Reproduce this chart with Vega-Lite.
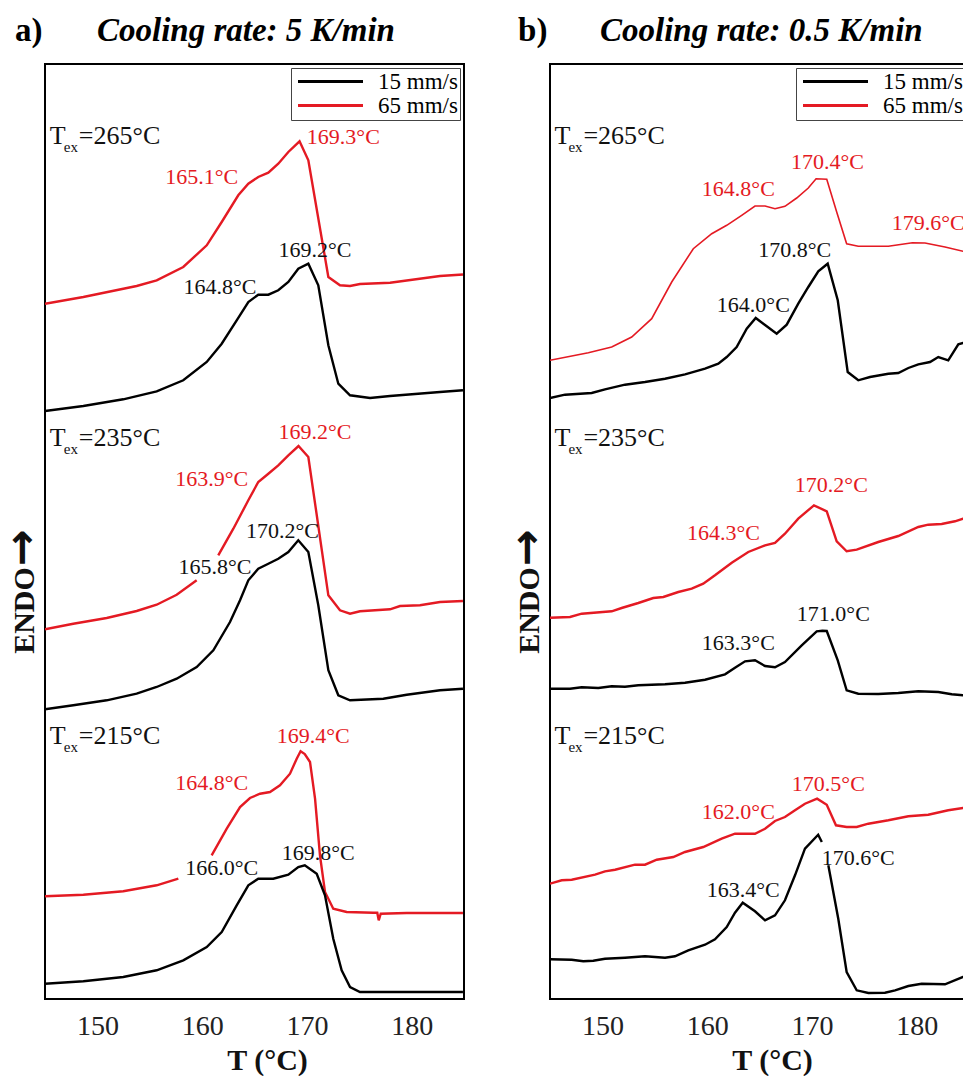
{
  "$schema": "https://vega.github.io/schema/vega-lite/v6.json",
  "padding": {"left": 0, "top": 13, "right": 0, "bottom": 0},
  "background": "white",
  "spacing": 40,
  "config": {
    "font": "Liberation Serif",
    "view": {"stroke": "black", "strokeWidth": 2},
    "axis": {"grid": false, "ticks": false, "tickSize": 0, "domain": false, "labelFont": "Liberation Serif", "titleFont": "Liberation Serif"},
    "legend": {
      "title": null, "orient": "top-right", "offset": 4, "padding": 2, "rowPadding": -4,
      "labelFont": "Liberation Serif", "labelFontSize": 23, "labelColor": "black", "labelLimit": 300,
      "symbolType": "M-1,0H9", "symbolSize": 169, "symbolStrokeWidth": 3, "labelOffset": 62,
      "strokeColor": "#444", "fillColor": "white"
    }
  },
  "resolve": {"scale": {"color": "independent"}, "legend": {"color": "independent"}},
  "datasets": {
    "curves": [
      {"p":"a","g":"a265r","s":"65 mm/s","T":145.00,"v":695.3},
      {"p":"a","g":"a265r","s":"65 mm/s","T":148.66,"v":702.0},
      {"p":"a","g":"a265r","s":"65 mm/s","T":153.75,"v":713.0},
      {"p":"a","g":"a265r","s":"65 mm/s","T":155.66,"v":718.7},
      {"p":"a","g":"a265r","s":"65 mm/s","T":158.20,"v":732.0},
      {"p":"a","g":"a265r","s":"65 mm/s","T":160.44,"v":753.7},
      {"p":"a","g":"a265r","s":"65 mm/s","T":161.87,"v":777.0},
      {"p":"a","g":"a265r","s":"65 mm/s","T":163.45,"v":803.7},
      {"p":"a","g":"a265r","s":"65 mm/s","T":164.41,"v":815.3},
      {"p":"a","g":"a265r","s":"65 mm/s","T":165.36,"v":822.0},
      {"p":"a","g":"a265r","s":"65 mm/s","T":166.32,"v":826.3},
      {"p":"a","g":"a265r","s":"65 mm/s","T":167.27,"v":835.3},
      {"p":"a","g":"a265r","s":"65 mm/s","T":168.23,"v":847.0},
      {"p":"a","g":"a265r","s":"65 mm/s","T":169.30,"v":857.7},
      {"p":"a","g":"a265r","s":"65 mm/s","T":170.14,"v":838.7},
      {"p":"a","g":"a265r","s":"65 mm/s","T":172.05,"v":722.0},
      {"p":"a","g":"a265r","s":"65 mm/s","T":173.16,"v":713.7},
      {"p":"a","g":"a265r","s":"65 mm/s","T":174.12,"v":713.0},
      {"p":"a","g":"a265r","s":"65 mm/s","T":175.07,"v":715.0},
      {"p":"a","g":"a265r","s":"65 mm/s","T":177.94,"v":716.3},
      {"p":"a","g":"a265r","s":"65 mm/s","T":182.71,"v":723.0},
      {"p":"a","g":"a265r","s":"65 mm/s","T":184.90,"v":724.5},

      {"p":"a","g":"a265b","s":"15 mm/s","T":145.00,"v":588.0},
      {"p":"a","g":"a265b","s":"15 mm/s","T":148.66,"v":593.0},
      {"p":"a","g":"a265b","s":"15 mm/s","T":152.47,"v":599.7},
      {"p":"a","g":"a265b","s":"15 mm/s","T":155.66,"v":607.7},
      {"p":"a","g":"a265b","s":"15 mm/s","T":158.20,"v":618.7},
      {"p":"a","g":"a265b","s":"15 mm/s","T":160.44,"v":637.0},
      {"p":"a","g":"a265b","s":"15 mm/s","T":161.87,"v":655.3},
      {"p":"a","g":"a265b","s":"15 mm/s","T":163.30,"v":678.7},
      {"p":"a","g":"a265b","s":"15 mm/s","T":164.41,"v":697.0},
      {"p":"a","g":"a265b","s":"15 mm/s","T":165.36,"v":704.3},
      {"p":"a","g":"a265b","s":"15 mm/s","T":166.32,"v":704.3},
      {"p":"a","g":"a265b","s":"15 mm/s","T":167.27,"v":708.7},
      {"p":"a","g":"a265b","s":"15 mm/s","T":168.23,"v":717.0},
      {"p":"a","g":"a265b","s":"15 mm/s","T":169.18,"v":730.3},
      {"p":"a","g":"a265b","s":"15 mm/s","T":170.14,"v":735.3},
      {"p":"a","g":"a265b","s":"15 mm/s","T":171.09,"v":713.7},
      {"p":"a","g":"a265b","s":"15 mm/s","T":172.05,"v":653.7},
      {"p":"a","g":"a265b","s":"15 mm/s","T":173.00,"v":615.3},
      {"p":"a","g":"a265b","s":"15 mm/s","T":174.12,"v":603.7},
      {"p":"a","g":"a265b","s":"15 mm/s","T":176.03,"v":601.0},
      {"p":"a","g":"a265b","s":"15 mm/s","T":177.94,"v":603.0},
      {"p":"a","g":"a265b","s":"15 mm/s","T":182.71,"v":607.0},
      {"p":"a","g":"a265b","s":"15 mm/s","T":184.90,"v":608.7},

      {"p":"a","g":"a235r1","s":"65 mm/s","T":145.00,"v":369.7},
      {"p":"a","g":"a235r1","s":"65 mm/s","T":147.70,"v":375.3},
      {"p":"a","g":"a235r1","s":"65 mm/s","T":150.89,"v":381.0},
      {"p":"a","g":"a235r1","s":"65 mm/s","T":153.75,"v":388.0},
      {"p":"a","g":"a235r1","s":"65 mm/s","T":155.66,"v":394.3},
      {"p":"a","g":"a235r1","s":"65 mm/s","T":157.57,"v":404.3},
      {"p":"a","g":"a235r1","s":"65 mm/s","T":159.48,"v":418.7},
      {"p":"a","g":"a235r2","s":"65 mm/s","T":161.54,"v":443.7},
      {"p":"a","g":"a235r2","s":"65 mm/s","T":162.98,"v":470.3},
      {"p":"a","g":"a235r2","s":"65 mm/s","T":164.41,"v":498.7},
      {"p":"a","g":"a235r2","s":"65 mm/s","T":165.36,"v":517.0},
      {"p":"a","g":"a235r2","s":"65 mm/s","T":166.32,"v":525.3},
      {"p":"a","g":"a235r2","s":"65 mm/s","T":167.27,"v":533.7},
      {"p":"a","g":"a235r2","s":"65 mm/s","T":168.23,"v":543.7},
      {"p":"a","g":"a235r2","s":"65 mm/s","T":169.20,"v":553.0},
      {"p":"a","g":"a235r2","s":"65 mm/s","T":170.14,"v":542.0},
      {"p":"a","g":"a235r2","s":"65 mm/s","T":172.05,"v":403.7},
      {"p":"a","g":"a235r2","s":"65 mm/s","T":173.16,"v":388.7},
      {"p":"a","g":"a235r2","s":"65 mm/s","T":174.12,"v":385.3},
      {"p":"a","g":"a235r2","s":"65 mm/s","T":175.07,"v":387.7},
      {"p":"a","g":"a235r2","s":"65 mm/s","T":177.94,"v":389.7},
      {"p":"a","g":"a235r2","s":"65 mm/s","T":178.89,"v":393.0},
      {"p":"a","g":"a235r2","s":"65 mm/s","T":180.80,"v":393.7},
      {"p":"a","g":"a235r2","s":"65 mm/s","T":182.71,"v":397.0},
      {"p":"a","g":"a235r2","s":"65 mm/s","T":184.90,"v":398.0},

      {"p":"a","g":"a235b","s":"15 mm/s","T":145.00,"v":289.7},
      {"p":"a","g":"a235b","s":"15 mm/s","T":147.70,"v":293.7},
      {"p":"a","g":"a235b","s":"15 mm/s","T":150.89,"v":298.7},
      {"p":"a","g":"a235b","s":"15 mm/s","T":153.75,"v":305.3},
      {"p":"a","g":"a235b","s":"15 mm/s","T":155.66,"v":312.0},
      {"p":"a","g":"a235b","s":"15 mm/s","T":157.57,"v":320.3},
      {"p":"a","g":"a235b","s":"15 mm/s","T":159.48,"v":332.0},
      {"p":"a","g":"a235b","s":"15 mm/s","T":161.07,"v":348.7},
      {"p":"a","g":"a235b","s":"15 mm/s","T":162.66,"v":377.0},
      {"p":"a","g":"a235b","s":"15 mm/s","T":163.62,"v":398.7},
      {"p":"a","g":"a235b","s":"15 mm/s","T":164.41,"v":418.7},
      {"p":"a","g":"a235b","s":"15 mm/s","T":165.36,"v":430.3},
      {"p":"a","g":"a235b","s":"15 mm/s","T":166.32,"v":435.3},
      {"p":"a","g":"a235b","s":"15 mm/s","T":167.27,"v":440.3},
      {"p":"a","g":"a235b","s":"15 mm/s","T":168.23,"v":447.0},
      {"p":"a","g":"a235b","s":"15 mm/s","T":169.18,"v":458.7},
      {"p":"a","g":"a235b","s":"15 mm/s","T":170.14,"v":447.0},
      {"p":"a","g":"a235b","s":"15 mm/s","T":171.09,"v":393.7},
      {"p":"a","g":"a235b","s":"15 mm/s","T":172.05,"v":328.7},
      {"p":"a","g":"a235b","s":"15 mm/s","T":173.00,"v":303.7},
      {"p":"a","g":"a235b","s":"15 mm/s","T":174.12,"v":298.7},
      {"p":"a","g":"a235b","s":"15 mm/s","T":177.30,"v":300.3},
      {"p":"a","g":"a235b","s":"15 mm/s","T":179.53,"v":304.3},
      {"p":"a","g":"a235b","s":"15 mm/s","T":182.71,"v":308.7},
      {"p":"a","g":"a235b","s":"15 mm/s","T":184.90,"v":310.3},

      {"p":"a","g":"a215r1","s":"65 mm/s","T":145.00,"v":102.7},
      {"p":"a","g":"a215r1","s":"65 mm/s","T":148.66,"v":104.3},
      {"p":"a","g":"a215r1","s":"65 mm/s","T":152.47,"v":107.7},
      {"p":"a","g":"a215r1","s":"65 mm/s","T":155.66,"v":113.7},
      {"p":"a","g":"a215r1","s":"65 mm/s","T":157.73,"v":120.3},
      {"p":"a","g":"a215r2","s":"65 mm/s","T":160.91,"v":143.7},
      {"p":"a","g":"a215r2","s":"65 mm/s","T":162.35,"v":170.3},
      {"p":"a","g":"a215r2","s":"65 mm/s","T":163.62,"v":192.0},
      {"p":"a","g":"a215r2","s":"65 mm/s","T":164.57,"v":201.0},
      {"p":"a","g":"a215r2","s":"65 mm/s","T":165.53,"v":205.3},
      {"p":"a","g":"a215r2","s":"65 mm/s","T":166.48,"v":207.0},
      {"p":"a","g":"a215r2","s":"65 mm/s","T":167.43,"v":213.7},
      {"p":"a","g":"a215r2","s":"65 mm/s","T":168.39,"v":225.3},
      {"p":"a","g":"a215r2","s":"65 mm/s","T":169.03,"v":240.3},
      {"p":"a","g":"a215r2","s":"65 mm/s","T":169.40,"v":247.7},
      {"p":"a","g":"a215r2","s":"65 mm/s","T":169.80,"v":245.0},
      {"p":"a","g":"a215r2","s":"65 mm/s","T":170.30,"v":237.0},
      {"p":"a","g":"a215r2","s":"65 mm/s","T":170.78,"v":200.3},
      {"p":"a","g":"a215r2","s":"65 mm/s","T":171.25,"v":143.7},
      {"p":"a","g":"a215r2","s":"65 mm/s","T":171.73,"v":107.0},
      {"p":"a","g":"a215r2","s":"65 mm/s","T":172.52,"v":90.3},
      {"p":"a","g":"a215r2","s":"65 mm/s","T":173.80,"v":87.0},
      {"p":"a","g":"a215r2","s":"65 mm/s","T":176.34,"v":86.3},
      {"p":"a","g":"a215r2","s":"65 mm/s","T":176.72,"v":86.3},
      {"p":"a","g":"a215r2","s":"65 mm/s","T":176.86,"v":78.7},
      {"p":"a","g":"a215r2","s":"65 mm/s","T":177.05,"v":85.3},
      {"p":"a","g":"a215r2","s":"65 mm/s","T":179.53,"v":86.0},
      {"p":"a","g":"a215r2","s":"65 mm/s","T":184.90,"v":86.0},

      {"p":"a","g":"a215b","s":"15 mm/s","T":145.00,"v":15.3},
      {"p":"a","g":"a215b","s":"15 mm/s","T":148.66,"v":17.7},
      {"p":"a","g":"a215b","s":"15 mm/s","T":152.47,"v":22.0},
      {"p":"a","g":"a215b","s":"15 mm/s","T":155.66,"v":28.7},
      {"p":"a","g":"a215b","s":"15 mm/s","T":158.20,"v":38.7},
      {"p":"a","g":"a215b","s":"15 mm/s","T":160.44,"v":52.0},
      {"p":"a","g":"a215b","s":"15 mm/s","T":161.87,"v":67.0},
      {"p":"a","g":"a215b","s":"15 mm/s","T":163.30,"v":93.7},
      {"p":"a","g":"a215b","s":"15 mm/s","T":164.41,"v":113.7},
      {"p":"a","g":"a215b","s":"15 mm/s","T":165.36,"v":120.3},
      {"p":"a","g":"a215b","s":"15 mm/s","T":166.79,"v":120.3},
      {"p":"a","g":"a215b","s":"15 mm/s","T":168.23,"v":124.3},
      {"p":"a","g":"a215b","s":"15 mm/s","T":169.18,"v":132.0},
      {"p":"a","g":"a215b","s":"15 mm/s","T":169.80,"v":133.7},
      {"p":"a","g":"a215b","s":"15 mm/s","T":170.94,"v":125.3},
      {"p":"a","g":"a215b","s":"15 mm/s","T":171.73,"v":103.7},
      {"p":"a","g":"a215b","s":"15 mm/s","T":172.52,"v":60.3},
      {"p":"a","g":"a215b","s":"15 mm/s","T":173.32,"v":28.7},
      {"p":"a","g":"a215b","s":"15 mm/s","T":174.12,"v":12.0},
      {"p":"a","g":"a215b","s":"15 mm/s","T":175.07,"v":7.0},
      {"p":"a","g":"a215b","s":"15 mm/s","T":177.94,"v":7.0},
      {"p":"a","g":"a215b","s":"15 mm/s","T":184.90,"v":7.0},

      {"p":"b","g":"b265r","s":"65 mm/s","T":145.00,"v":638.7},
      {"p":"b","g":"b265r","s":"65 mm/s","T":148.66,"v":646.3},
      {"p":"b","g":"b265r","s":"65 mm/s","T":150.89,"v":652.0},
      {"p":"b","g":"b265r","s":"65 mm/s","T":152.80,"v":662.0},
      {"p":"b","g":"b265r","s":"65 mm/s","T":154.71,"v":680.3},
      {"p":"b","g":"b265r","s":"65 mm/s","T":156.62,"v":717.0},
      {"p":"b","g":"b265r","s":"65 mm/s","T":158.68,"v":750.3},
      {"p":"b","g":"b265r","s":"65 mm/s","T":160.44,"v":765.3},
      {"p":"b","g":"b265r","s":"65 mm/s","T":161.87,"v":773.7},
      {"p":"b","g":"b265r","s":"65 mm/s","T":163.30,"v":783.7},
      {"p":"b","g":"b265r","s":"65 mm/s","T":164.57,"v":793.0},
      {"p":"b","g":"b265r","s":"65 mm/s","T":165.53,"v":793.0},
      {"p":"b","g":"b265r","s":"65 mm/s","T":166.48,"v":790.3},
      {"p":"b","g":"b265r","s":"65 mm/s","T":167.43,"v":792.7},
      {"p":"b","g":"b265r","s":"65 mm/s","T":168.55,"v":801.0},
      {"p":"b","g":"b265r","s":"65 mm/s","T":169.66,"v":811.0},
      {"p":"b","g":"b265r","s":"65 mm/s","T":170.40,"v":820.3},
      {"p":"b","g":"b265r","s":"65 mm/s","T":171.42,"v":819.7},
      {"p":"b","g":"b265r","s":"65 mm/s","T":172.37,"v":787.0},
      {"p":"b","g":"b265r","s":"65 mm/s","T":173.32,"v":755.3},
      {"p":"b","g":"b265r","s":"65 mm/s","T":174.43,"v":752.7},
      {"p":"b","g":"b265r","s":"65 mm/s","T":177.30,"v":752.7},
      {"p":"b","g":"b265r","s":"65 mm/s","T":179.60,"v":756.3},
      {"p":"b","g":"b265r","s":"65 mm/s","T":180.80,"v":756.0},
      {"p":"b","g":"b265r","s":"65 mm/s","T":182.71,"v":752.0},
      {"p":"b","g":"b265r","s":"65 mm/s","T":184.43,"v":747.7},
      {"p":"b","g":"b265r","s":"65 mm/s","T":185.00,"v":747.0},

      {"p":"b","g":"b265b","s":"15 mm/s","T":145.00,"v":601.0},
      {"p":"b","g":"b265b","s":"15 mm/s","T":146.43,"v":604.3},
      {"p":"b","g":"b265b","s":"15 mm/s","T":148.98,"v":606.0},
      {"p":"b","g":"b265b","s":"15 mm/s","T":150.25,"v":609.7},
      {"p":"b","g":"b265b","s":"15 mm/s","T":152.16,"v":614.3},
      {"p":"b","g":"b265b","s":"15 mm/s","T":154.07,"v":617.0},
      {"p":"b","g":"b265b","s":"15 mm/s","T":155.98,"v":620.3},
      {"p":"b","g":"b265b","s":"15 mm/s","T":157.89,"v":624.7},
      {"p":"b","g":"b265b","s":"15 mm/s","T":159.80,"v":630.3},
      {"p":"b","g":"b265b","s":"15 mm/s","T":161.07,"v":635.3},
      {"p":"b","g":"b265b","s":"15 mm/s","T":161.87,"v":642.0},
      {"p":"b","g":"b265b","s":"15 mm/s","T":162.82,"v":652.0},
      {"p":"b","g":"b265b","s":"15 mm/s","T":163.78,"v":670.3},
      {"p":"b","g":"b265b","s":"15 mm/s","T":164.64,"v":681.0},
      {"p":"b","g":"b265b","s":"15 mm/s","T":165.69,"v":672.7},
      {"p":"b","g":"b265b","s":"15 mm/s","T":166.64,"v":665.3},
      {"p":"b","g":"b265b","s":"15 mm/s","T":167.60,"v":674.3},
      {"p":"b","g":"b265b","s":"15 mm/s","T":168.70,"v":695.3},
      {"p":"b","g":"b265b","s":"15 mm/s","T":169.66,"v":712.0},
      {"p":"b","g":"b265b","s":"15 mm/s","T":170.61,"v":727.7},
      {"p":"b","g":"b265b","s":"15 mm/s","T":171.51,"v":735.3},
      {"p":"b","g":"b265b","s":"15 mm/s","T":172.47,"v":698.7},
      {"p":"b","g":"b265b","s":"15 mm/s","T":173.42,"v":627.0},
      {"p":"b","g":"b265b","s":"15 mm/s","T":174.43,"v":618.7},
      {"p":"b","g":"b265b","s":"15 mm/s","T":175.55,"v":622.0},
      {"p":"b","g":"b265b","s":"15 mm/s","T":177.30,"v":625.3},
      {"p":"b","g":"b265b","s":"15 mm/s","T":178.25,"v":626.0},
      {"p":"b","g":"b265b","s":"15 mm/s","T":179.21,"v":631.0},
      {"p":"b","g":"b265b","s":"15 mm/s","T":180.16,"v":634.7},
      {"p":"b","g":"b265b","s":"15 mm/s","T":181.28,"v":637.0},
      {"p":"b","g":"b265b","s":"15 mm/s","T":182.07,"v":642.0},
      {"p":"b","g":"b265b","s":"15 mm/s","T":183.02,"v":638.7},
      {"p":"b","g":"b265b","s":"15 mm/s","T":183.98,"v":654.7},
      {"p":"b","g":"b265b","s":"15 mm/s","T":184.43,"v":656.0},
      {"p":"b","g":"b265b","s":"15 mm/s","T":185.00,"v":657.0},

      {"p":"b","g":"b235r","s":"65 mm/s","T":145.00,"v":381.3},
      {"p":"b","g":"b235r","s":"65 mm/s","T":146.91,"v":382.0},
      {"p":"b","g":"b235r","s":"65 mm/s","T":148.03,"v":385.3},
      {"p":"b","g":"b235r","s":"65 mm/s","T":150.89,"v":387.7},
      {"p":"b","g":"b235r","s":"65 mm/s","T":151.84,"v":391.0},
      {"p":"b","g":"b235r","s":"65 mm/s","T":153.43,"v":396.0},
      {"p":"b","g":"b235r","s":"65 mm/s","T":154.86,"v":401.0},
      {"p":"b","g":"b235r","s":"65 mm/s","T":155.82,"v":402.0},
      {"p":"b","g":"b235r","s":"65 mm/s","T":157.25,"v":407.0},
      {"p":"b","g":"b235r","s":"65 mm/s","T":158.53,"v":410.3},
      {"p":"b","g":"b235r","s":"65 mm/s","T":159.63,"v":415.3},
      {"p":"b","g":"b235r","s":"65 mm/s","T":160.75,"v":423.7},
      {"p":"b","g":"b235r","s":"65 mm/s","T":162.35,"v":436.3},
      {"p":"b","g":"b235r","s":"65 mm/s","T":163.93,"v":447.0},
      {"p":"b","g":"b235r","s":"65 mm/s","T":165.53,"v":453.7},
      {"p":"b","g":"b235r","s":"65 mm/s","T":166.48,"v":456.0},
      {"p":"b","g":"b235r","s":"65 mm/s","T":167.43,"v":465.3},
      {"p":"b","g":"b235r","s":"65 mm/s","T":168.70,"v":480.3},
      {"p":"b","g":"b235r","s":"65 mm/s","T":170.20,"v":493.7},
      {"p":"b","g":"b235r","s":"65 mm/s","T":171.42,"v":487.7},
      {"p":"b","g":"b235r","s":"65 mm/s","T":172.37,"v":457.7},
      {"p":"b","g":"b235r","s":"65 mm/s","T":173.32,"v":447.7},
      {"p":"b","g":"b235r","s":"65 mm/s","T":174.28,"v":449.3},
      {"p":"b","g":"b235r","s":"65 mm/s","T":176.34,"v":457.0},
      {"p":"b","g":"b235r","s":"65 mm/s","T":178.25,"v":463.0},
      {"p":"b","g":"b235r","s":"65 mm/s","T":180.16,"v":472.0},
      {"p":"b","g":"b235r","s":"65 mm/s","T":181.11,"v":474.3},
      {"p":"b","g":"b235r","s":"65 mm/s","T":182.39,"v":475.0},
      {"p":"b","g":"b235r","s":"65 mm/s","T":183.66,"v":477.7},
      {"p":"b","g":"b235r","s":"65 mm/s","T":184.43,"v":480.3},
      {"p":"b","g":"b235r","s":"65 mm/s","T":185.00,"v":481.5},

      {"p":"b","g":"b235b","s":"15 mm/s","T":145.00,"v":310.3},
      {"p":"b","g":"b235b","s":"15 mm/s","T":146.91,"v":310.3},
      {"p":"b","g":"b235b","s":"15 mm/s","T":148.03,"v":311.7},
      {"p":"b","g":"b235b","s":"15 mm/s","T":149.61,"v":311.0},
      {"p":"b","g":"b235b","s":"15 mm/s","T":150.89,"v":312.7},
      {"p":"b","g":"b235b","s":"15 mm/s","T":152.16,"v":312.3},
      {"p":"b","g":"b235b","s":"15 mm/s","T":153.43,"v":313.7},
      {"p":"b","g":"b235b","s":"15 mm/s","T":155.98,"v":314.7},
      {"p":"b","g":"b235b","s":"15 mm/s","T":157.89,"v":316.3},
      {"p":"b","g":"b235b","s":"15 mm/s","T":159.80,"v":319.3},
      {"p":"b","g":"b235b","s":"15 mm/s","T":161.71,"v":324.7},
      {"p":"b","g":"b235b","s":"15 mm/s","T":162.66,"v":331.3},
      {"p":"b","g":"b235b","s":"15 mm/s","T":163.62,"v":337.7},
      {"p":"b","g":"b235b","s":"15 mm/s","T":164.57,"v":338.7},
      {"p":"b","g":"b235b","s":"15 mm/s","T":165.53,"v":333.0},
      {"p":"b","g":"b235b","s":"15 mm/s","T":166.48,"v":331.7},
      {"p":"b","g":"b235b","s":"15 mm/s","T":167.43,"v":337.0},
      {"p":"b","g":"b235b","s":"15 mm/s","T":169.03,"v":353.7},
      {"p":"b","g":"b235b","s":"15 mm/s","T":170.46,"v":367.7},
      {"p":"b","g":"b235b","s":"15 mm/s","T":171.00,"v":368.3},
      {"p":"b","g":"b235b","s":"15 mm/s","T":171.42,"v":368.0},
      {"p":"b","g":"b235b","s":"15 mm/s","T":172.47,"v":338.7},
      {"p":"b","g":"b235b","s":"15 mm/s","T":173.32,"v":308.7},
      {"p":"b","g":"b235b","s":"15 mm/s","T":174.43,"v":305.3},
      {"p":"b","g":"b235b","s":"15 mm/s","T":176.34,"v":305.0},
      {"p":"b","g":"b235b","s":"15 mm/s","T":178.25,"v":306.0},
      {"p":"b","g":"b235b","s":"15 mm/s","T":180.16,"v":307.7},
      {"p":"b","g":"b235b","s":"15 mm/s","T":182.07,"v":307.0},
      {"p":"b","g":"b235b","s":"15 mm/s","T":183.35,"v":304.7},
      {"p":"b","g":"b235b","s":"15 mm/s","T":184.43,"v":303.7},
      {"p":"b","g":"b235b","s":"15 mm/s","T":185.00,"v":303.5},

      {"p":"b","g":"b215r","s":"65 mm/s","T":145.00,"v":115.3},
      {"p":"b","g":"b215r","s":"65 mm/s","T":146.12,"v":118.7},
      {"p":"b","g":"b215r","s":"65 mm/s","T":147.07,"v":119.3},
      {"p":"b","g":"b215r","s":"65 mm/s","T":149.30,"v":124.3},
      {"p":"b","g":"b215r","s":"65 mm/s","T":150.25,"v":127.7},
      {"p":"b","g":"b215r","s":"65 mm/s","T":151.21,"v":129.3},
      {"p":"b","g":"b215r","s":"65 mm/s","T":153.11,"v":134.3},
      {"p":"b","g":"b215r","s":"65 mm/s","T":154.07,"v":134.3},
      {"p":"b","g":"b215r","s":"65 mm/s","T":155.19,"v":139.3},
      {"p":"b","g":"b215r","s":"65 mm/s","T":156.77,"v":142.0},
      {"p":"b","g":"b215r","s":"65 mm/s","T":157.89,"v":147.0},
      {"p":"b","g":"b215r","s":"65 mm/s","T":159.63,"v":152.0},
      {"p":"b","g":"b215r","s":"65 mm/s","T":161.39,"v":160.3},
      {"p":"b","g":"b215r","s":"65 mm/s","T":162.66,"v":165.3},
      {"p":"b","g":"b215r","s":"65 mm/s","T":164.57,"v":165.3},
      {"p":"b","g":"b215r","s":"65 mm/s","T":165.53,"v":170.3},
      {"p":"b","g":"b215r","s":"65 mm/s","T":166.48,"v":178.0},
      {"p":"b","g":"b215r","s":"65 mm/s","T":167.43,"v":182.0},
      {"p":"b","g":"b215r","s":"65 mm/s","T":168.39,"v":188.7},
      {"p":"b","g":"b215r","s":"65 mm/s","T":169.34,"v":195.3},
      {"p":"b","g":"b215r","s":"65 mm/s","T":170.50,"v":200.3},
      {"p":"b","g":"b215r","s":"65 mm/s","T":171.42,"v":194.3},
      {"p":"b","g":"b215r","s":"65 mm/s","T":172.30,"v":173.7},
      {"p":"b","g":"b215r","s":"65 mm/s","T":173.32,"v":172.0},
      {"p":"b","g":"b215r","s":"65 mm/s","T":174.28,"v":172.0},
      {"p":"b","g":"b215r","s":"65 mm/s","T":175.39,"v":175.3},
      {"p":"b","g":"b215r","s":"65 mm/s","T":177.30,"v":178.7},
      {"p":"b","g":"b215r","s":"65 mm/s","T":179.21,"v":182.7},
      {"p":"b","g":"b215r","s":"65 mm/s","T":181.11,"v":184.3},
      {"p":"b","g":"b215r","s":"65 mm/s","T":183.02,"v":188.7},
      {"p":"b","g":"b215r","s":"65 mm/s","T":184.43,"v":191.0},
      {"p":"b","g":"b215r","s":"65 mm/s","T":185.00,"v":192.0},

      {"p":"b","g":"b215b1","s":"15 mm/s","T":145.00,"v":39.7},
      {"p":"b","g":"b215b1","s":"15 mm/s","T":147.07,"v":39.3},
      {"p":"b","g":"b215b1","s":"15 mm/s","T":148.18,"v":37.7},
      {"p":"b","g":"b215b1","s":"15 mm/s","T":149.13,"v":38.3},
      {"p":"b","g":"b215b1","s":"15 mm/s","T":150.25,"v":40.3},
      {"p":"b","g":"b215b1","s":"15 mm/s","T":152.16,"v":41.3},
      {"p":"b","g":"b215b1","s":"15 mm/s","T":154.07,"v":42.7},
      {"p":"b","g":"b215b1","s":"15 mm/s","T":155.98,"v":41.3},
      {"p":"b","g":"b215b1","s":"15 mm/s","T":156.93,"v":42.7},
      {"p":"b","g":"b215b1","s":"15 mm/s","T":158.20,"v":48.7},
      {"p":"b","g":"b215b1","s":"15 mm/s","T":159.80,"v":54.3},
      {"p":"b","g":"b215b1","s":"15 mm/s","T":160.75,"v":59.7},
      {"p":"b","g":"b215b1","s":"15 mm/s","T":161.87,"v":72.0},
      {"p":"b","g":"b215b1","s":"15 mm/s","T":162.66,"v":86.3},
      {"p":"b","g":"b215b1","s":"15 mm/s","T":163.40,"v":96.3},
      {"p":"b","g":"b215b1","s":"15 mm/s","T":164.57,"v":87.7},
      {"p":"b","g":"b215b1","s":"15 mm/s","T":165.53,"v":78.7},
      {"p":"b","g":"b215b1","s":"15 mm/s","T":166.48,"v":83.7},
      {"p":"b","g":"b215b1","s":"15 mm/s","T":167.43,"v":98.7},
      {"p":"b","g":"b215b1","s":"15 mm/s","T":168.39,"v":123.7},
      {"p":"b","g":"b215b1","s":"15 mm/s","T":169.34,"v":150.3},
      {"p":"b","g":"b215b1","s":"15 mm/s","T":170.60,"v":164.3},
      {"p":"b","g":"b215b1","s":"15 mm/s","T":170.95,"v":157.0},
      {"p":"b","g":"b215b2","s":"15 mm/s","T":171.57,"v":133.7},
      {"p":"b","g":"b215b2","s":"15 mm/s","T":172.52,"v":80.3},
      {"p":"b","g":"b215b2","s":"15 mm/s","T":173.32,"v":27.0},
      {"p":"b","g":"b215b2","s":"15 mm/s","T":174.28,"v":8.7},
      {"p":"b","g":"b215b2","s":"15 mm/s","T":175.39,"v":6.0},
      {"p":"b","g":"b215b2","s":"15 mm/s","T":176.98,"v":6.3},
      {"p":"b","g":"b215b2","s":"15 mm/s","T":177.94,"v":8.7},
      {"p":"b","g":"b215b2","s":"15 mm/s","T":179.21,"v":13.0},
      {"p":"b","g":"b215b2","s":"15 mm/s","T":180.48,"v":15.3},
      {"p":"b","g":"b215b2","s":"15 mm/s","T":182.71,"v":14.7},
      {"p":"b","g":"b215b2","s":"15 mm/s","T":184.43,"v":22.0},
      {"p":"b","g":"b215b2","s":"15 mm/s","T":185.00,"v":24.0}
    ],
    "peaks": [
      {"p":"a","s":"65 mm/s","T":173.48,"v":855.3,"t":"169.3°C"},
      {"p":"a","s":"65 mm/s","T":159.96,"v":815.3,"t":"165.1°C"},
      {"p":"a","s":"15 mm/s","T":170.78,"v":742.0,"t":"169.2°C"},
      {"p":"a","s":"15 mm/s","T":161.71,"v":705.3,"t":"164.8°C"},
      {"p":"a","s":"65 mm/s","T":170.78,"v":560.3,"t":"169.2°C"},
      {"p":"a","s":"65 mm/s","T":160.91,"v":513.0,"t":"163.9°C"},
      {"p":"a","s":"15 mm/s","T":167.67,"v":461.0,"t":"170.2°C"},
      {"p":"a","s":"15 mm/s","T":161.23,"v":425.3,"t":"165.8°C"},
      {"p":"a","s":"65 mm/s","T":170.61,"v":256.0,"t":"169.4°C"},
      {"p":"a","s":"65 mm/s","T":160.91,"v":209.3,"t":"164.8°C"},
      {"p":"a","s":"15 mm/s","T":171.09,"v":138.7,"t":"169.8°C"},
      {"p":"a","s":"15 mm/s","T":161.87,"v":123.7,"t":"166.0°C"},
      {"p":"b","s":"65 mm/s","T":171.49,"v":829.7,"t":"170.4°C"},
      {"p":"b","s":"65 mm/s","T":162.98,"v":803.0,"t":"164.8°C"},
      {"p":"b","s":"65 mm/s","T":181.10,"v":768.7,"t":"179.6°C"},
      {"p":"b","s":"15 mm/s","T":168.36,"v":742.0,"t":"170.8°C"},
      {"p":"b","s":"15 mm/s","T":164.41,"v":687.0,"t":"164.0°C"},
      {"p":"b","s":"65 mm/s","T":171.86,"v":507.0,"t":"170.2°C"},
      {"p":"b","s":"65 mm/s","T":161.55,"v":458.7,"t":"164.3°C"},
      {"p":"b","s":"15 mm/s","T":172.05,"v":378.0,"t":"171.0°C"},
      {"p":"b","s":"15 mm/s","T":162.98,"v":348.7,"t":"163.3°C"},
      {"p":"b","s":"65 mm/s","T":171.57,"v":207.7,"t":"170.5°C"},
      {"p":"b","s":"65 mm/s","T":162.98,"v":180.3,"t":"162.0°C"},
      {"p":"b","s":"15 mm/s","T":174.43,"v":134.3,"t":"170.6°C"},
      {"p":"b","s":"15 mm/s","T":163.45,"v":102.0,"t":"163.4°C"}
    ],
    "tex": [
      {"p":"a","T":145.46,"v":855.3,"r":"=265°C"},
      {"p":"a","T":145.46,"v":552.7,"r":"=235°C"},
      {"p":"a","T":145.46,"v":255.0,"r":"=215°C"},
      {"p":"b","T":145.42,"v":855.3,"r":"=265°C"},
      {"p":"b","T":145.42,"v":552.7,"r":"=235°C"},
      {"p":"b","T":145.42,"v":255.0,"r":"=215°C"}
    ],
    "heads": [
      {"p":"a","k":"tag","T":142.14,"v":958,"t":"a)"},
      {"p":"a","k":"head","T":149.96,"v":958,"t":"Cooling rate: 5 K/min"},
      {"p":"a","k":"arrow","T":142.9,"v":451,"t":"→"},
      {"p":"b","k":"tag","T":141.95,"v":958,"t":"b)"},
      {"p":"b","k":"head","T":149.77,"v":958,"t":"Cooling rate: 0.5 K/min"},
      {"p":"b","k":"arrow","T":142.9,"v":451,"t":"→"}
    ]
  },
  "hconcat": [
    {
      "width": 419,
      "height": 935,
      "encoding": {
        "x": {"field": "T", "type": "quantitative", "scale": {"domain": [145, 185], "nice": false, "zero": false},
              "axis": {"title": "T (°C)", "values": [150, 160, 170, 180], "labelFontSize": 28, "labelColor": "#222", "labelPadding": 13, "labelFlush": false,
                       "titleFontSize": 30, "titleFontWeight": "bold", "titleColor": "#111", "titlePadding": 5, "titleX": 222}},
        "y": {"field": "v", "type": "quantitative", "scale": {"domain": [0, 935], "nice": false, "zero": false},
              "axis": {"title": "ENDO", "labels": false, "titleFontSize": 30, "titleFontWeight": "bold", "titleColor": "#111", "titlePadding": 6, "titleY": 546}}
      },
      "layer": [
        {
          "data": {"name": "curves"},
          "transform": [{"filter": "datum.p === 'a'"}],
          "mark": {"type": "line", "strokeWidth": 2.4, "clip": true},
          "encoding": {
            "color": {"field": "s", "type": "nominal", "scale": {"domain": ["15 mm/s", "65 mm/s"], "range": ["#000000", "#e41a23"]}},
            "detail": {"field": "g"}
          }
        },
        {
          "data": {"name": "peaks"},
          "transform": [{"filter": "datum.p === 'a'"}],
          "mark": {"type": "text", "align": "center", "baseline": "alphabetic", "fontSize": 22, "font": "Liberation Serif"},
          "encoding": {
            "text": {"field": "t"},
            "color": {"condition": {"test": "datum.s === '65 mm/s'", "value": "#e41a23"}, "value": "#111111"}
          }
        },
        {
          "data": {"name": "tex"},
          "transform": [{"filter": "datum.p === 'a'"}],
          "mark": {"type": "text", "align": "left", "baseline": "alphabetic", "fontSize": 26, "font": "Liberation Serif", "color": "#111111"},
          "encoding": {"text": {"value": "T"}}
        },
        {
          "data": {"name": "tex"},
          "transform": [{"filter": "datum.p === 'a'"}],
          "mark": {"type": "text", "align": "left", "baseline": "alphabetic", "fontSize": 15, "dx": 14, "dy": 8, "font": "Liberation Serif", "color": "#111111"},
          "encoding": {"text": {"value": "ex"}}
        },
        {
          "data": {"name": "tex"},
          "transform": [{"filter": "datum.p === 'a'"}],
          "mark": {"type": "text", "align": "left", "baseline": "alphabetic", "fontSize": 26, "dx": 29, "font": "Liberation Serif", "color": "#111111"},
          "encoding": {"text": {"field": "r"}}
        },
        {
          "data": {"name": "heads"},
          "transform": [{"filter": "datum.p === 'a' && datum.k === 'tag'"}],
          "mark": {"type": "text", "align": "left", "baseline": "alphabetic", "fontSize": 33, "fontWeight": "bold", "font": "Liberation Serif", "color": "black"},
          "encoding": {"text": {"field": "t"}}
        },
        {
          "data": {"name": "heads"},
          "transform": [{"filter": "datum.p === 'a' && datum.k === 'head'"}],
          "mark": {"type": "text", "align": "left", "baseline": "alphabetic", "fontSize": 33, "fontWeight": "bold", "fontStyle": "italic", "font": "Liberation Serif", "color": "black"},
          "encoding": {"text": {"field": "t"}}
        },
        {
          "data": {"name": "heads"},
          "transform": [{"filter": "datum.p === 'a' && datum.k === 'arrow'"}],
          "mark": {"type": "text", "align": "center", "baseline": "middle", "angle": 270, "fontSize": 44, "fontWeight": "bold", "font": "DejaVu Sans", "color": "#111111"},
          "encoding": {"text": {"field": "t"}}
        }
      ]
    },
    {
      "width": 419,
      "height": 935,
      "encoding": {
        "x": {"field": "T", "type": "quantitative", "scale": {"domain": [145, 185], "nice": false, "zero": false},
              "axis": {"title": "T (°C)", "values": [150, 160, 170, 180], "labelFontSize": 28, "labelColor": "#222", "labelPadding": 13, "labelFlush": false,
                       "titleFontSize": 30, "titleFontWeight": "bold", "titleColor": "#111", "titlePadding": 5, "titleX": 222}},
        "y": {"field": "v", "type": "quantitative", "scale": {"domain": [0, 935], "nice": false, "zero": false},
              "axis": {"title": "ENDO", "labels": false, "titleFontSize": 30, "titleFontWeight": "bold", "titleColor": "#111", "titlePadding": 6, "titleY": 546}}
      },
      "layer": [
        {
          "data": {"name": "curves"},
          "transform": [{"filter": "datum.p === 'b' && datum.g !== 'b265r'"}],
          "mark": {"type": "line", "strokeWidth": 2.4, "clip": true},
          "encoding": {
            "color": {"field": "s", "type": "nominal", "scale": {"domain": ["15 mm/s", "65 mm/s"], "range": ["#000000", "#e41a23"]}},
            "detail": {"field": "g"}
          }
        },
        {
          "data": {"name": "curves"},
          "transform": [{"filter": "datum.g === 'b265r'"}],
          "mark": {"type": "line", "strokeWidth": 1.6, "clip": true},
          "encoding": {
            "color": {"field": "s", "type": "nominal", "scale": {"domain": ["15 mm/s", "65 mm/s"], "range": ["#000000", "#e41a23"]}},
            "detail": {"field": "g"}
          }
        },
        {
          "data": {"name": "peaks"},
          "transform": [{"filter": "datum.p === 'b'"}],
          "mark": {"type": "text", "align": "center", "baseline": "alphabetic", "fontSize": 22, "font": "Liberation Serif"},
          "encoding": {
            "text": {"field": "t"},
            "color": {"condition": {"test": "datum.s === '65 mm/s'", "value": "#e41a23"}, "value": "#111111"}
          }
        },
        {
          "data": {"name": "tex"},
          "transform": [{"filter": "datum.p === 'b'"}],
          "mark": {"type": "text", "align": "left", "baseline": "alphabetic", "fontSize": 26, "font": "Liberation Serif", "color": "#111111"},
          "encoding": {"text": {"value": "T"}}
        },
        {
          "data": {"name": "tex"},
          "transform": [{"filter": "datum.p === 'b'"}],
          "mark": {"type": "text", "align": "left", "baseline": "alphabetic", "fontSize": 15, "dx": 14, "dy": 8, "font": "Liberation Serif", "color": "#111111"},
          "encoding": {"text": {"value": "ex"}}
        },
        {
          "data": {"name": "tex"},
          "transform": [{"filter": "datum.p === 'b'"}],
          "mark": {"type": "text", "align": "left", "baseline": "alphabetic", "fontSize": 26, "dx": 29, "font": "Liberation Serif", "color": "#111111"},
          "encoding": {"text": {"field": "r"}}
        },
        {
          "data": {"name": "heads"},
          "transform": [{"filter": "datum.p === 'b' && datum.k === 'tag'"}],
          "mark": {"type": "text", "align": "left", "baseline": "alphabetic", "fontSize": 33, "fontWeight": "bold", "font": "Liberation Serif", "color": "black"},
          "encoding": {"text": {"field": "t"}}
        },
        {
          "data": {"name": "heads"},
          "transform": [{"filter": "datum.p === 'b' && datum.k === 'head'"}],
          "mark": {"type": "text", "align": "left", "baseline": "alphabetic", "fontSize": 33, "fontWeight": "bold", "fontStyle": "italic", "font": "Liberation Serif", "color": "black"},
          "encoding": {"text": {"field": "t"}}
        },
        {
          "data": {"name": "heads"},
          "transform": [{"filter": "datum.p === 'b' && datum.k === 'arrow'"}],
          "mark": {"type": "text", "align": "center", "baseline": "middle", "angle": 270, "fontSize": 44, "fontWeight": "bold", "font": "DejaVu Sans", "color": "#111111"},
          "encoding": {"text": {"field": "t"}}
        }
      ]
    }
  ]
}
